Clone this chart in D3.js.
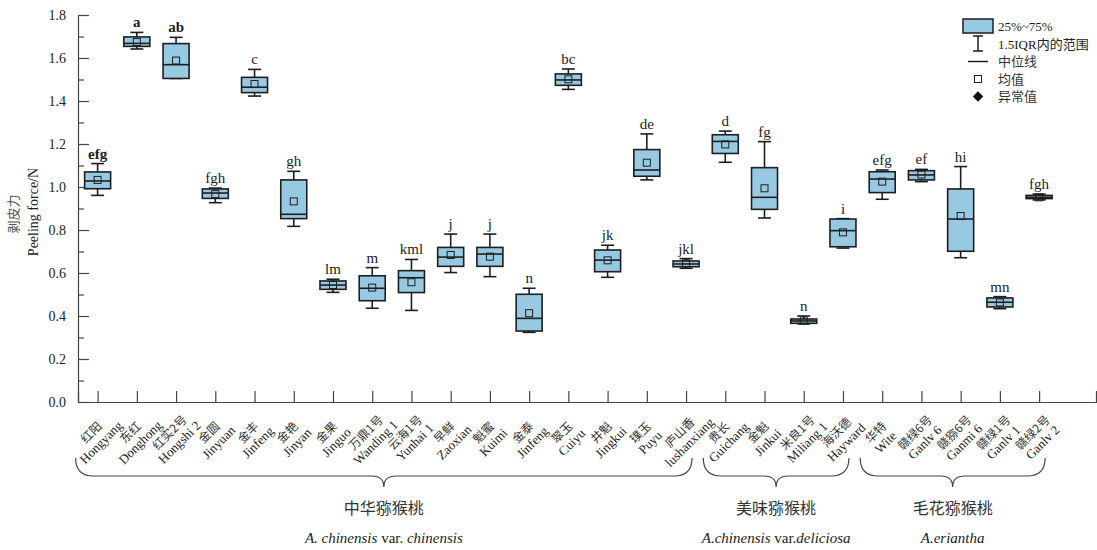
<!DOCTYPE html>
<html>
<head>
<meta charset="utf-8">
<script src="https://cdn.jsdelivr.net/npm/d3@7"></script>
<style>
  body { margin: 0; background: #fff; }
  text { font-family: "Liberation Serif", "Noto Sans CJK SC", serif; fill: #222; }
  .zh { font-family: "Noto Sans CJK SC", sans-serif; fill: #333; }
</style>
</head>
<body>
<div id="chart"></div>
<script>
// cultivars (English / Chinese) and significance letters
var cultivars = ["Hongyang", "Donghong", "Hongshi 2", "Jinyuan", "Jinfeng", "Jinyan", "Jinguo", "Wanding 1",
  "Yunhai 1", "Zaoxian", "Kuimi", "Jinfeng", "Cuiyu", "Jingkui", "Puyu", "lushanxiang",
  "Guichang", "Jinkui", "Miliang 1", "Hayward",
  "Wite", "Ganlv 6", "Ganmi 6", "Ganlv 1", "Ganlv 2"];
var cultivarsZh = ["红阳", "东红", "红实2号", "金圆", "金丰", "金艳", "金果", "万鼎1号",
  "云海1号", "早鲜", "魁蜜", "金泰", "翠玉", "井魁", "璞玉", "庐山香",
  "贵长", "金魁", "米良1号", "海沃德",
  "华特", "赣绿6号", "赣猕6号", "赣绿1号", "赣绿2号"];
var letters = ["efg", "a", "ab", "fgh", "c", "gh", "lm", "m", "kml", "j", "j", "n", "bc", "jk", "de", "jkl",
  "d", "fg", "n", "i", "efg", "ef", "hi", "mn", "fgh"];

// box statistics (N)
var whiskerLow  = [0.961, 1.642, 1.505, 0.927, 1.423, 0.817, 0.510, 0.436, 0.426, 0.602, 0.583, 0.324, 1.454, 0.580, 1.033, 0.622,
  1.115, 0.856, 0.363, 0.716, 0.943, 1.025, 0.671, 0.434, 0.940];
var q1          = [0.992, 1.654, 1.505, 0.947, 1.439, 0.853, 0.524, 0.471, 0.509, 0.631, 0.631, 0.330, 1.473, 0.606, 1.050, 0.629,
  1.156, 0.896, 0.366, 0.722, 0.974, 1.033, 0.701, 0.442, 0.946];
var median      = [1.028, 1.668, 1.569, 0.972, 1.464, 0.873, 0.544, 0.529, 0.578, 0.674, 0.688, 0.389, 1.498, 0.660, 1.079, 0.642,
  1.212, 0.952, 0.377, 0.797, 1.037, 1.056, 0.851, 0.464, 0.952];
var q3          = [1.070, 1.698, 1.667, 0.991, 1.510, 1.033, 0.563, 0.587, 0.611, 0.719, 0.719, 0.501, 1.526, 0.707, 1.174, 0.656,
  1.243, 1.090, 0.386, 0.851, 1.071, 1.076, 0.991, 0.484, 0.961];
var whiskerHigh = [1.109, 1.719, 1.696, 0.995, 1.547, 1.073, 0.571, 0.625, 0.663, 0.781, 0.781, 0.529, 1.549, 0.729, 1.247, 0.667,
  1.260, 1.211, 0.400, 0.853, 1.079, 1.082, 1.095, 0.490, 0.967];
var mean        = [1.033, 1.674, 1.588, 0.967, 1.479, 0.933, 0.544, 0.532, 0.557, 0.684, 0.676, 0.413, 1.501, 0.659, 1.113, 0.645,
  1.198, 0.994, 0.379, 0.789, 1.025, 1.058, 0.865, 0.463, 0.952];

var yTicks = [0, 0.2, 0.4, 0.6, 0.8, 1.0, 1.2, 1.4, 1.6, 1.8];
var yMinorTicks = [0.1, 0.3, 0.5, 0.7, 0.9, 1.1, 1.3, 1.5, 1.7];

// species groups: index range of cultivars
var groupNames = ["中华猕猴桃", "美味猕猴桃", "毛花猕猴桃"];
var groupLatin = [
  [["A. chinensis", true], [" var. ", false], ["chinensis", true]],
  [["A.chinensis", true], [" var.", false], ["deliciosa", true]],
  [["A.eriantha", true]]
];
var groupStart = [0, 16, 20];
var groupEnd = [15, 19, 24];

var legendLabels = ["25%~75%", "1.5IQR内的范围", "中位线", "均值", "异常值"];

var width = 1097, height = 550;
var boxColor = "#98c9e3", lineColor = "#1e1e1e";

var x = d3.scaleLinear().domain([-0.5, 25.45]).range([78, 1096]);
var y = d3.scaleLinear().domain([0, 1.8]).range([402, 15]);

var svg = d3.select("#chart").append("svg")
  .attr("width", width)
  .attr("height", height);

// y axis
var yAxis = svg.append("g")
  .attr("transform", "translate(" + x(-0.5) + ",0)")
  .call(d3.axisLeft(y).tickValues(yTicks).tickSize(-11).tickSizeOuter(0).tickPadding(12)
    .tickFormat(d3.format(".1f")));
yAxis.selectAll("text").style("font-size", "14px").style("font-family", "Liberation Serif");
svg.append("g")
  .attr("transform", "translate(" + x(-0.5) + ",0)")
  .call(d3.axisLeft(y).tickValues(yMinorTicks).tickSize(-6).tickFormat(""))
  .select(".domain").remove();

// x axis
var xAxis = svg.append("g")
  .attr("transform", "translate(0," + y(0) + ")")
  .call(d3.axisBottom(x).tickValues(d3.range(cultivars.length)).tickSize(-11).tickSizeOuter(-11).tickFormat(""));

svg.selectAll(".domain, .tick line").attr("stroke", "#444").attr("stroke-width", 1.2);

// y title
svg.append("text")
  .attr("class", "zh")
  .attr("transform", "translate(18,214) rotate(-90)")
  .attr("text-anchor", "middle")
  .style("font-size", "13px")
  .style("fill", "#555")
  .text("剥皮力");
svg.append("text")
  .attr("transform", "translate(38,212) rotate(-90)")
  .attr("text-anchor", "middle")
  .style("font-size", "14px")
  .text("Peeling force/N");

// boxes
var idx = d3.range(cultivars.length);
var boxW = 26, capW = 13;
var boxes = svg.append("g").selectAll("g").data(idx).enter().append("g")
  .attr("transform", function (i) { return "translate(" + x(i) + ",0)"; });

boxes.append("line")
  .attr("y1", function (i) { return y(whiskerLow[i]); })
  .attr("y2", function (i) { return y(whiskerHigh[i]); })
  .attr("stroke", lineColor).attr("stroke-width", 1.6);
boxes.append("line").attr("x1", -capW / 2).attr("x2", capW / 2)
  .attr("y1", function (i) { return y(whiskerHigh[i]); })
  .attr("y2", function (i) { return y(whiskerHigh[i]); })
  .attr("stroke", lineColor).attr("stroke-width", 1.6);
boxes.append("line").attr("x1", -capW / 2).attr("x2", capW / 2)
  .attr("y1", function (i) { return y(whiskerLow[i]); })
  .attr("y2", function (i) { return y(whiskerLow[i]); })
  .attr("stroke", lineColor).attr("stroke-width", 1.6);
boxes.append("rect")
  .attr("x", -boxW / 2).attr("width", boxW)
  .attr("y", function (i) { return y(q3[i]); })
  .attr("height", function (i) { return y(q1[i]) - y(q3[i]); })
  .attr("fill", boxColor).attr("stroke", lineColor).attr("stroke-width", 1.6);
boxes.append("line").attr("x1", -boxW / 2).attr("x2", boxW / 2)
  .attr("y1", function (i) { return y(median[i]); })
  .attr("y2", function (i) { return y(median[i]); })
  .attr("stroke", lineColor).attr("stroke-width", 1.6);
boxes.append("rect")
  .attr("x", -3.5).attr("width", 7).attr("height", 7)
  .attr("y", function (i) { return y(mean[i]) - 3.5; })
  .attr("fill", "none").attr("stroke", lineColor).attr("stroke-width", 1);
boxes.append("text")
  .attr("text-anchor", "middle")
  .attr("y", function (i) { return y(whiskerHigh[i]) - 5; })
  .style("font-size", "15px")
  .style("font-weight", function (i) { return i < 3 ? "bold" : "normal"; })
  .text(function (i) { return letters[i]; });

// rotated cultivar labels
var labels = svg.append("g").selectAll("g").data(idx).enter().append("g")
  .attr("transform", function (i) { return "translate(" + (x(i) - 2) + ",437) rotate(-45)"; });
labels.append("text")
  .attr("class", "zh")
  .attr("text-anchor", "middle")
  .attr("y", -2)
  .style("font-size", "12px")
  .text(function (i) { return cultivarsZh[i]; });
labels.append("text")
  .attr("text-anchor", "middle")
  .attr("y", 12)
  .style("font-size", "13px")
  .text(function (i) { return cultivars[i]; });

// group braces
var braceTop = 458, braceLine = 476, braceTip = 487;
groupNames.forEach(function (name, g) {
  var x1 = x(groupStart[g]) - 22, x2 = x(groupEnd[g]) + 6, xm = (x1 + x2) / 2;
  var p = d3.path();
  p.moveTo(x1, braceTop);
  p.quadraticCurveTo(x1, braceLine, x1 + 18, braceLine);
  p.lineTo(xm - 12, braceLine);
  p.quadraticCurveTo(xm, braceLine, xm, braceTip);
  p.quadraticCurveTo(xm, braceLine, xm + 12, braceLine);
  p.lineTo(x2 - 18, braceLine);
  p.quadraticCurveTo(x2, braceLine, x2, braceTop);
  svg.append("path").attr("d", p.toString())
    .attr("fill", "none").attr("stroke", "#444").attr("stroke-width", 1.2);

  svg.append("text")
    .attr("class", "zh")
    .attr("x", xm).attr("y", 514)
    .attr("text-anchor", "middle")
    .style("font-size", "16px")
    .text(name);

  var t = svg.append("text")
    .attr("x", xm).attr("y", 543)
    .attr("text-anchor", "middle")
    .style("font-size", "15px");
  groupLatin[g].forEach(function (part) {
    t.append("tspan").style("font-style", part[1] ? "italic" : "normal").text(part[0]);
  });
});

// legend
var lx = 978, ly = [26, 44, 61.5, 79, 96.5];
var legend = svg.append("g");
legend.append("rect").attr("x", lx - 15).attr("y", ly[0] - 7).attr("width", 30).attr("height", 14)
  .attr("fill", boxColor).attr("stroke", lineColor).attr("stroke-width", 1.5);
legend.append("line").attr("x1", lx).attr("x2", lx).attr("y1", ly[1] - 8).attr("y2", ly[1] + 7)
  .attr("stroke", lineColor).attr("stroke-width", 1.5);
legend.append("line").attr("x1", lx - 5).attr("x2", lx + 5).attr("y1", ly[1] - 8).attr("y2", ly[1] - 8)
  .attr("stroke", lineColor).attr("stroke-width", 1.5);
legend.append("line").attr("x1", lx - 5).attr("x2", lx + 5).attr("y1", ly[1] + 7).attr("y2", ly[1] + 7)
  .attr("stroke", lineColor).attr("stroke-width", 1.5);
legend.append("line").attr("x1", lx - 10).attr("x2", lx + 10).attr("y1", ly[2]).attr("y2", ly[2])
  .attr("stroke", lineColor).attr("stroke-width", 1.5);
legend.append("rect").attr("x", lx - 3.5).attr("y", ly[3] - 3.5).attr("width", 7).attr("height", 7)
  .attr("fill", "none").attr("stroke", lineColor).attr("stroke-width", 1);
legend.append("path")
  .attr("transform", "translate(" + lx + "," + ly[4] + ")")
  .attr("d", d3.symbol().type(d3.symbolDiamond2).size(70)())
  .attr("fill", "#111");
legend.selectAll("text.lg").data(legendLabels).enter().append("text")
  .attr("class", function (d, i) { return i < 2 ? "lg" : "lg zh"; })
  .attr("x", lx + 20)
  .attr("y", function (d, i) { return ly[i]; })
  .attr("dy", "0.35em")
  .style("font-size", "13px")
  .text(function (d) { return d; });
</script>
</body>
</html>
